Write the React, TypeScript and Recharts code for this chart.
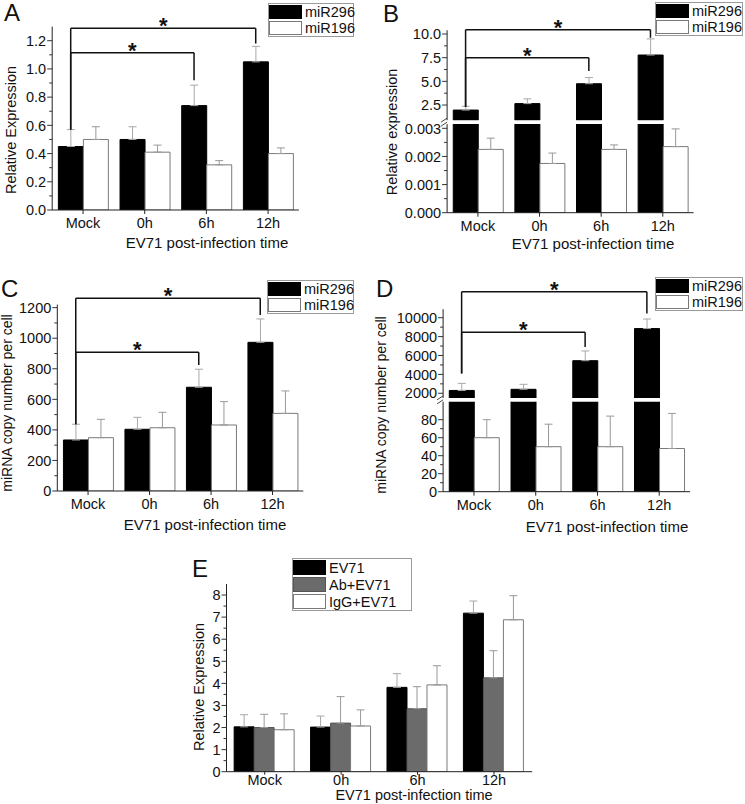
import React from "react";
import { BarChart, Bar, XAxis, YAxis, ErrorBar, ReferenceLine, ReferenceDot } from "recharts";

const FONT = '"Liberation Sans", Arial, Helvetica, sans-serif';
const CATS = ["Mock", "0h", "6h", "12h"];

// panel A
const A_296 = [0.45, 0.5, 0.74, 1.05];
const A_296_ERR = [0.12, 0.09, 0.145, 0.11];
const A_196 = [0.5, 0.41, 0.32, 0.4];
const A_196_ERR = [0.09, 0.05, 0.03, 0.04];
const A_TICKS = [0, 0.2, 0.4, 0.6, 0.8, 1.0, 1.2];
const A_SIG = [
  { to: 2, level: 1.115, left: 0.57, right: 0.92 },
  { to: 3, level: 1.288, left: 0.57, right: 1.18 },
];

// panel B (broken axis)
const B_296 = [1.97, 2.65, 4.75, 7.78];
const B_296_ERR = [0.4, 0.5, 0.65, 1.7];
const B_196 = [0.00225, 0.00175, 0.00225, 0.00235];
const B_196_ERR = [0.0004, 0.00037, 0.00016, 0.00063];
const B_TICKS_HI = [2.5, 5.0, 7.5, 10.0];
const B_TICKS_LO = [0, 0.001, 0.002, 0.003];
const B_SIG = [
  { to: 2, level: 7.5, left: 2.3, right: 6.1 },
  { to: 3, level: 10.45, left: 2.3, right: 9.6 },
];

// panel C
const C_296 = [334, 404, 679, 973];
const C_296_ERR = [103, 78, 118, 153];
const C_196 = [349, 414, 432, 508];
const C_196_ERR = [120, 101, 153, 147];
const C_TICKS = [0, 200, 400, 600, 800, 1000, 1200];
const C_SIG = [
  { to: 2, level: 908, left: 437, right: 825 },
  { to: 3, level: 1262, left: 437, right: 1152 },
];

// panel D (broken axis)
const D_296 = [2300, 2420, 5450, 8850];
const D_296_ERR = [750, 530, 1030, 1010];
const D_196 = [60, 50, 50, 48];
const D_196_ERR = [20, 25, 34, 39];
const D_TICKS_HI = [2000, 4000, 6000, 8000, 10000];
const D_TICKS_LO = [0, 20, 40, 60, 80];
const D_SIG = [
  { to: 2, level: 8450, left: 4100, right: 6900 },
  { to: 3, level: 12750, left: 4100, right: 10450 },
];

// panel E
const E_EV71 = [2.03, 2.02, 3.82, 7.18];
const E_EV71_ERR = [0.55, 0.5, 0.62, 0.55];
const E_AB = [2.0, 2.2, 2.85, 4.25];
const E_AB_ERR = [0.6, 1.2, 1.0, 1.23];
const E_IGG = [1.9, 2.07, 3.93, 6.88];
const E_IGG_ERR = [0.72, 0.73, 0.87, 1.09];
const E_TICKS = [0, 1, 2, 3, 4, 5, 6, 7, 8];

const BLACK = { fill: "#000", stroke: "#000", errStroke: "#a8a8a8" };
const WHITE = { fill: "#fff", stroke: "#7a7a7a", errStroke: "#999" };
const GRAY = { fill: "#6b6b6b", stroke: "#555", errStroke: "#999" };

type Rect = { x: number; y: number; w: number; h: number };
type Sig = { to: number; level: number; left: number; right: number };
type Series = { key: string; err?: boolean; fill: string; stroke: string; errStroke: string };

const YW = 50;
const XH = 30;
const TICK_FS = 14.5;

function margins(box: Rect, plot: Rect, hasX: boolean) {
  return {
    top: plot.y - box.y,
    left: plot.x - box.x - YW,
    right: box.x + box.w - plot.x - plot.w,
    bottom: box.y + box.h - plot.y - plot.h - (hasX ? XH : 0),
  };
}

function rows(cols: { key: string; vals: (number | null)[]; err?: number[] }[]) {
  return CATS.map((cat, i) => {
    const r: any = { cat, pos: i + 0.5 };
    cols.forEach((c) => {
      r[c.key] = c.vals[i];
      if (c.err) r[c.key + "Err"] = [0, c.err[i]];
    });
    return r;
  });
}

function withMinor(major: number[]) {
  const out = [...major];
  for (let i = 0; i < major.length - 1; i++) out.push((major[i] + major[i + 1]) / 2);
  return out.sort((a, b) => a - b);
}

const yTick = (majors: number[], fmt: (v: number) => string) => (props: any) => {
  const { x, y, payload } = props;
  const v = payload.value;
  const isMajor = majors.some((m) => Math.abs(m - v) < 1e-9);
  return (
    <g>
      <line x1={x - (isMajor ? 5 : 3)} x2={x} y1={y} y2={y} stroke="#333" strokeWidth={1} />
      {isMajor && (
        <text x={x - 6} y={y} dy="0.36em" textAnchor="end" fontSize={TICK_FS} fontFamily={FONT} fill="#111">
          {fmt(v)}
        </text>
      )}
    </g>
  );
};

const starShape = (p: any) => (
  <text x={p.cx} y={p.cy + 5} textAnchor="middle" fontSize={22} fontWeight="bold" fontFamily={FONT} fill="#111">
    *
  </text>
);

function BarPanel(props: {
  box: Rect;
  plot: Rect;
  data: any[];
  domain: [number, number];
  majors: number[];
  fmt: (v: number) => string;
  showX: boolean;
  series: Series[];
  sig?: Sig[];
  labelGap?: number;
  tickLen?: number;
}) {
  const { box, plot, data, domain, majors, fmt, showX, series, sig = [], labelGap = 4, tickLen = 4 } = props;
  // centre of the first bar inside its category (10% category gap, bars touching)
  const first = 0.1 + 0.8 / series.length / 2;
  const line = { xAxisId: "n", stroke: "#111", strokeWidth: 1.5, ifOverflow: "visible" as const };
  return (
    <div style={{ position: "absolute", left: box.x, top: box.y }}>
      <BarChart
        width={box.w}
        height={box.h}
        data={data}
        margin={margins(box, plot, showX)}
        barCategoryGap="10%"
        barGap={0}
      >
        <XAxis
          dataKey="cat"
          hide={!showX}
          height={XH}
          interval={0}
          axisLine={{ stroke: "#222" }}
          tickLine={{ stroke: "#222" }}
          tickSize={tickLen}
          tickMargin={labelGap}
          tick={{ fontSize: TICK_FS, fill: "#111", fontFamily: FONT }}
        />
        <XAxis xAxisId="n" type="number" dataKey="pos" domain={[0, CATS.length]} allowDataOverflow hide />
        <YAxis
          type="number"
          domain={domain}
          allowDataOverflow
          ticks={withMinor(majors)}
          interval={0}
          width={YW}
          axisLine={{ stroke: "#222" }}
          tickLine={false}
          tickSize={0}
          tickMargin={0}
          tick={yTick(majors, fmt)}
        />
        {series.map((s) => (
          <Bar key={s.key} dataKey={s.key} fill={s.fill} stroke={s.stroke} strokeWidth={1} isAnimationActive={false}>
            {s.err && <ErrorBar dataKey={s.key + "Err"} width={4} stroke={s.errStroke} strokeWidth={1} direction="y" />}
          </Bar>
        ))}
        {sig.flatMap((s, i) => {
          const x0 = first;
          const x1 = s.to + first;
          return [
            <ReferenceLine key={`h${i}`} {...line} segment={[{ x: x0, y: s.level }, { x: x1, y: s.level }]} />,
            <ReferenceLine key={`l${i}`} {...line} segment={[{ x: x0, y: s.level }, { x: x0, y: s.left }]} />,
            <ReferenceLine key={`r${i}`} {...line} segment={[{ x: x1, y: s.level }, { x: x1, y: s.right }]} />,
            <ReferenceDot
              key={`s${i}`}
              xAxisId="n"
              x={(x0 + x1) / 2}
              y={s.level}
              r={0}
              ifOverflow="visible"
              shape={starShape}
            />,
          ];
        })}
      </BarChart>
    </div>
  );
}

// legend box drawn in the overlay svg
function Key({ x, y, w, rowH, items }: { x: number; y: number; w: number; rowH: number; items: { label: string; fill: string; stroke: string }[] }) {
  const h = rowH * items.length + 2;
  return (
    <g>
      <rect x={x + 0.5} y={y + 0.5} width={w - 1} height={h - 1} fill="#fff" stroke="#9a9a9a" strokeWidth={1} />
      {items.map((it, i) => {
        const top = y + 1 + i * rowH;
        return (
          <g key={it.label}>
            <rect x={x + 1.5} y={top + 1.5} width={32} height={rowH - 3} fill={it.fill} stroke={it.stroke} strokeWidth={1} />
            <text x={x + 37} y={top + rowH / 2} dy="0.36em" fontSize={14.5} fontFamily={FONT} fill="#111">
              {it.label}
            </text>
          </g>
        );
      })}
    </g>
  );
}

const MIR_KEY = [
  { label: "miR296", fill: BLACK.fill, stroke: BLACK.stroke },
  { label: "miR196", fill: WHITE.fill, stroke: WHITE.stroke },
];
const E_KEY = [
  { label: "EV71", fill: BLACK.fill, stroke: BLACK.stroke },
  { label: "Ab+EV71", fill: GRAY.fill, stroke: GRAY.stroke },
  { label: "IgG+EV71", fill: WHITE.fill, stroke: WHITE.stroke },
];

const MIR_FULL: Series[] = [
  { key: "s1", err: true, ...BLACK },
  { key: "s2", err: true, ...WHITE },
];
const MIR_LOW: Series[] = [
  { key: "s1", ...BLACK },
  { key: "s2", err: true, ...WHITE },
];

const A_BOX = { x: 0, y: 0, w: 372, h: 262 };
const A_PLOT = { x: 52.2, y: 26.6, w: 246.7, h: 183.4 };
const B_HI_BOX = { x: 372, y: 0, w: 373, h: 122 };
const B_HI_PLOT = { x: 447.1, y: 30.2, w: 246.5, h: 90 };
const B_LO_BOX = { x: 372, y: 121, w: 373, h: 141 };
const B_LO_PLOT = { x: 447.1, y: 124.1, w: 246.5, h: 88.6 };
const C_BOX = { x: 0, y: 262, w: 372, h: 272 };
const C_PLOT = { x: 57.3, y: 304.6, w: 246, h: 186.4 };
const D_HI_BOX = { x: 372, y: 262, w: 373, h: 138 };
const D_HI_PLOT = { x: 443.1, y: 309.2, w: 247, h: 88.8 };
const D_LO_BOX = { x: 372, y: 399, w: 373, h: 135 };
const D_LO_PLOT = { x: 443.1, y: 401.7, w: 247, h: 90 };
const E_BOX = { x: 170, y: 540, w: 410, h: 264 };
const E_PLOT = { x: 226.5, y: 584, w: 305.7, h: 187.7 };

function BreakMark({ x, yTop, yBottom }: { x: number; yTop: number; yBottom: number }) {
  const m = (yTop + yBottom) / 2;
  return (
    <g stroke="#444" strokeWidth={1}>
      <line x1={x - 6} y1={m} x2={x} y2={m - 4} />
      <line x1={x - 6} y1={m + 4} x2={x} y2={m} />
    </g>
  );
}

export default function App() {
  const fmt1 = (v: number) => v.toFixed(1);
  const fmt3 = (v: number) => v.toFixed(3);
  const fmt0 = (v: number) => String(Math.round(v));

  const aData = rows([
    { key: "s1", vals: A_296, err: A_296_ERR },
    { key: "s2", vals: A_196, err: A_196_ERR },
  ]);
  const bHi = rows([
    { key: "s1", vals: B_296, err: B_296_ERR },
    { key: "s2", vals: B_196.map(() => null) },
  ]);
  const bLo = rows([
    { key: "s1", vals: B_296 },
    { key: "s2", vals: B_196, err: B_196_ERR },
  ]);
  const cData = rows([
    { key: "s1", vals: C_296, err: C_296_ERR },
    { key: "s2", vals: C_196, err: C_196_ERR },
  ]);
  const dHi = rows([
    { key: "s1", vals: D_296, err: D_296_ERR },
    { key: "s2", vals: D_196.map(() => null) },
  ]);
  const dLo = rows([
    { key: "s1", vals: D_296 },
    { key: "s2", vals: D_196, err: D_196_ERR },
  ]);
  const eData = rows([
    { key: "s1", vals: E_EV71, err: E_EV71_ERR },
    { key: "s2", vals: E_AB, err: E_AB_ERR },
    { key: "s3", vals: E_IGG, err: E_IGG_ERR },
  ]);

  const title = { fontSize: 15, fontFamily: FONT, fill: "#111", textAnchor: "middle" as const };
  const letter = { fontSize: 24, fontFamily: FONT, fill: "#111" };
  const yTitle = (x: number, y: number, t: string, size = 14.5) => (
    <text {...title} fontSize={size} x={x} y={y} transform={`rotate(-90 ${x} ${y})`}>
      {t}
    </text>
  );

  return (
    <div style={{ position: "absolute", left: 0, top: 0, width: 745, height: 804, background: "#fff", overflow: "hidden" }}>
      <BarPanel box={A_BOX} plot={A_PLOT} data={aData} domain={[0, 1.3]} majors={A_TICKS} fmt={fmt1} showX series={MIR_FULL} sig={A_SIG} />
      <BarPanel box={B_HI_BOX} plot={B_HI_PLOT} data={bHi} domain={[0.9, 10.4]} majors={B_TICKS_HI} fmt={fmt1} showX={false} series={MIR_FULL} sig={B_SIG} />
      <BarPanel box={B_LO_BOX} plot={B_LO_PLOT} data={bLo} domain={[0, 0.00315]} majors={B_TICKS_LO} fmt={fmt3} showX series={MIR_LOW} />
      <BarPanel box={C_BOX} plot={C_PLOT} data={cData} domain={[0, 1220]} majors={C_TICKS} fmt={fmt0} showX series={MIR_FULL} sig={C_SIG} />
      <BarPanel box={D_HI_BOX} plot={D_HI_PLOT} data={dHi} domain={[1500, 10900]} majors={D_TICKS_HI} fmt={fmt0} showX={false} series={MIR_FULL} sig={D_SIG} />
      <BarPanel box={D_LO_BOX} plot={D_LO_PLOT} data={dLo} domain={[0, 100]} majors={D_TICKS_LO} fmt={fmt0} showX series={MIR_LOW} />
      <BarPanel
        box={E_BOX}
        plot={E_PLOT}
        data={eData}
        domain={[0, 8.5]}
        majors={E_TICKS}
        fmt={fmt0}
        showX
        labelGap={0}
        tickLen={3}
        series={[
          { key: "s1", err: true, ...BLACK },
          { key: "s2", err: true, ...GRAY },
          { key: "s3", err: true, ...WHITE },
        ]}
      />

      <svg width={745} height={804} style={{ position: "absolute", left: 0, top: 0, pointerEvents: "none" }}>
        <text {...letter} x={4} y={21}>A</text>
        <text {...letter} x={383} y={22}>B</text>
        <text {...letter} x={1} y={297}>C</text>
        <text {...letter} x={376} y={297}>D</text>
        <text {...letter} x={192} y={577}>E</text>

        <text {...title} x={207} y={248}>EV71 post-infection time</text>
        <text {...title} x={593} y={249}>EV71 post-infection time</text>
        <text {...title} x={205} y={530}>EV71 post-infection time</text>
        <text {...title} x={607} y={532}>EV71 post-infection time</text>
        <text {...title} fontSize={14.5} x={414} y={800}>EV71 post-infection time</text>

        {yTitle(16, 130, "Relative Expression")}
        {yTitle(397, 132, "Relative expression")}
        {yTitle(12, 403, "miRNA copy number per cell", 14)}
        {yTitle(386, 405, "miRNA copy number per cell", 14)}
        {yTitle(204, 687, "Relative Expression")}

        <BreakMark x={B_HI_PLOT.x} yTop={B_HI_PLOT.y + B_HI_PLOT.h} yBottom={B_LO_PLOT.y} />
        <BreakMark x={D_HI_PLOT.x} yTop={D_HI_PLOT.y + D_HI_PLOT.h} yBottom={D_LO_PLOT.y} />

        <Key x={268} y={3} w={86} rowH={16} items={MIR_KEY} />
        <Key x={655} y={2} w={88} rowH={16} items={MIR_KEY} />
        <Key x={267} y={280} w={87} rowH={16} items={MIR_KEY} />
        <Key x={655} y={277} w={88} rowH={16} items={MIR_KEY} />
        <Key x={292} y={558} w={120} rowH={17} items={E_KEY} />
      </svg>
    </div>
  );
}
